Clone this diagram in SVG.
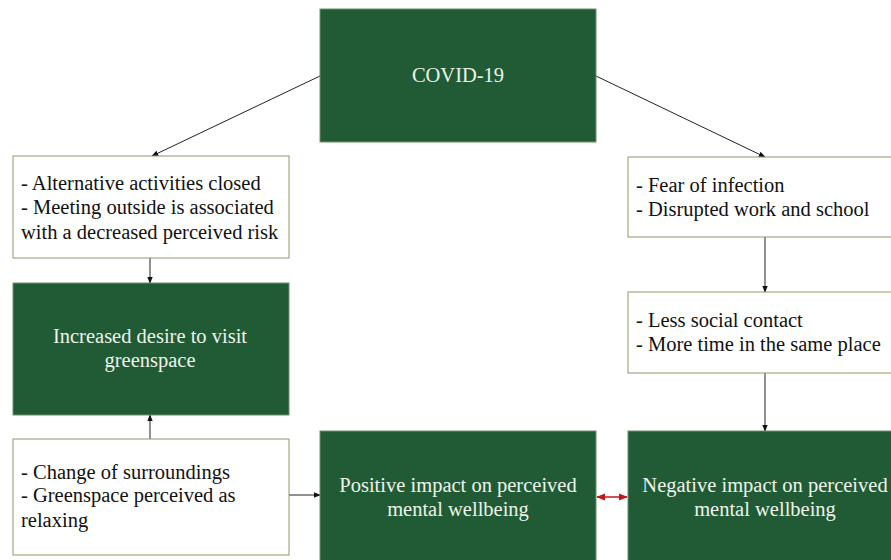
<svg xmlns="http://www.w3.org/2000/svg" width="891" height="560" viewBox="0 0 891 560">
<defs>
<style>
.g{fill:#215b35;stroke:#6f8f6f;stroke-width:1}
.w{fill:#ffffff;stroke:#8a9a6a;stroke-width:1}
.t{font-family:"Liberation Serif","Times New Roman",serif;font-size:20.5px;fill:#111}
.tw{font-family:"Liberation Serif","Times New Roman",serif;font-size:20.5px;fill:#eef3ea;text-anchor:middle}
.c{stroke:#222;stroke-width:1;fill:none}
.r{stroke:#c0181c;stroke-width:1.5;fill:none}
</style>
<marker id="a" viewBox="0 0 10 10" refX="9" refY="5" markerWidth="7" markerHeight="7" orient="auto-start-reverse"><path d="M0,1 L10,5 L0,9 z" fill="#111"/></marker>
<marker id="ar" viewBox="0 0 10 10" refX="9" refY="5" markerWidth="6" markerHeight="6" orient="auto-start-reverse"><path d="M0,1 L10,5 L0,9 z" fill="#c0181c"/></marker>
</defs>
<g id="connectors">
<line class="c" x1="320" y1="76" x2="152" y2="156" marker-end="url(#a)"/>
<line class="c" x1="596" y1="76" x2="765" y2="157" marker-end="url(#a)"/>
<line class="c" x1="150" y1="258" x2="150" y2="283" marker-end="url(#a)"/>
<line class="c" x1="150" y1="439" x2="150" y2="415" marker-end="url(#a)"/>
<line class="c" x1="289" y1="495" x2="320" y2="495" marker-end="url(#a)"/>
<line class="c" x1="765" y1="237" x2="765" y2="292" marker-end="url(#a)"/>
<line class="c" x1="765" y1="373" x2="765" y2="431" marker-end="url(#a)"/>
<line class="r" x1="597" y1="497" x2="627" y2="497" marker-start="url(#ar)" marker-end="url(#ar)"/>
</g>
<g id="covid"><rect class="g" x="320" y="9" width="276" height="133"/><text class="tw" x="458" y="82">COVID-19</text></g>
<g id="box-alt"><rect class="w" x="13" y="156" width="276" height="102"/>
<text class="t" x="21" y="190">- Alternative activities closed</text>
<text class="t" x="21" y="214">- Meeting outside is associated</text>
<text class="t" x="21" y="239">with a decreased perceived risk</text></g>
<g id="box-fear"><rect class="w" x="628" y="157" width="270" height="80"/>
<text class="t" x="636" y="192">- Fear of infection</text>
<text class="t" x="636" y="216">- Disrupted work and school</text></g>
<g id="box-social"><rect class="w" x="628" y="292" width="270" height="81"/>
<text class="t" x="636" y="327">- Less social contact</text>
<text class="t" x="636" y="351">- More time in the same place</text></g>
<g id="desire"><rect class="g" x="13" y="283" width="276" height="132"/>
<text class="tw" x="150" y="343">Increased desire to visit</text>
<text class="tw" x="150" y="367">greenspace</text></g>
<g id="box-change"><rect class="w" x="13" y="439" width="276" height="116"/>
<text class="t" x="21" y="479">- Change of surroundings</text>
<text class="t" x="21" y="502">- Greenspace perceived as</text>
<text class="t" x="21" y="527">relaxing</text></g>
<g id="positive"><rect class="g" x="320" y="431" width="276" height="135"/>
<text class="tw" x="458" y="492">Positive impact on perceived</text>
<text class="tw" x="458" y="516">mental wellbeing</text></g>
<g id="negative"><rect class="g" x="628" y="431" width="270" height="135"/>
<text class="tw" x="765" y="492">Negative impact on perceived</text>
<text class="tw" x="765" y="516">mental wellbeing</text></g>
</svg>
